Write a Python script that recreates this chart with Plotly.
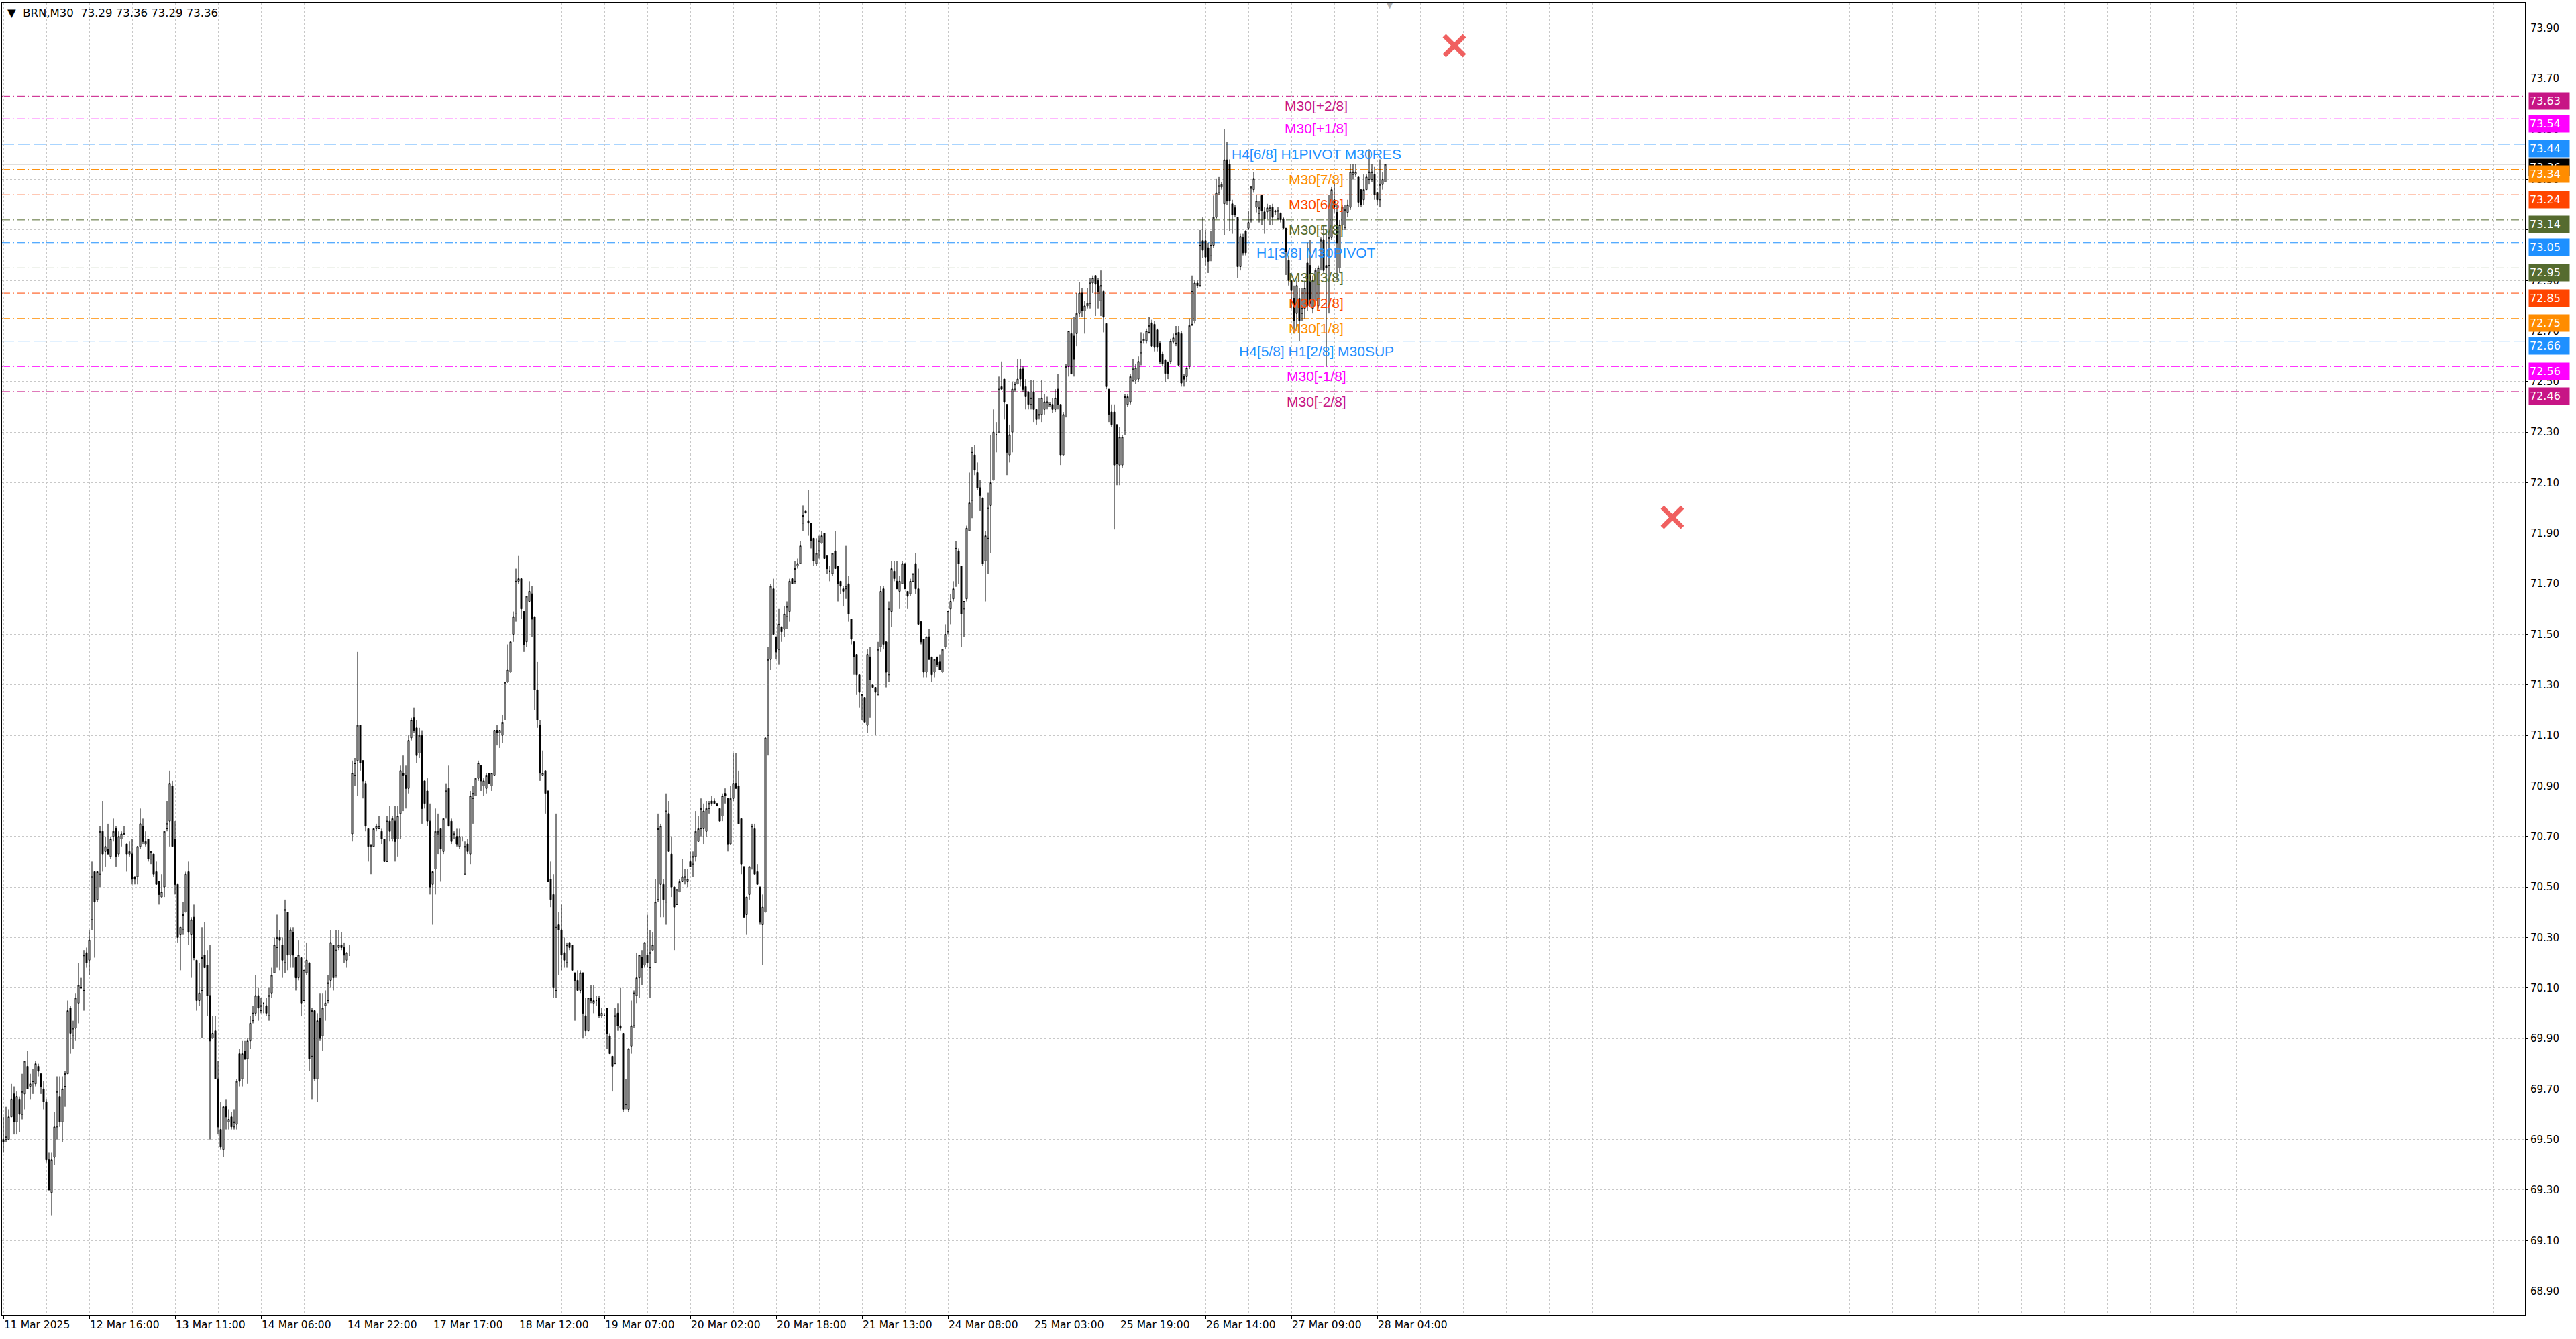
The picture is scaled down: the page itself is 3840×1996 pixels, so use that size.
import plotly.graph_objects as go

# ---------------- data (BRN, M30) ----------------
# (open, high, low, close) per 30-minute bar
week_11_14_mar = [
 (69.50,69.59,69.45,69.49),(69.50,69.63,69.49,69.51),(69.50,69.62,69.50,69.59),(69.59,69.72,69.59,69.66),
 (69.68,69.71,69.52,69.57),(69.57,69.69,69.52,69.67),(69.66,69.67,69.53,69.60),(69.60,69.76,69.58,69.69),
 (69.68,69.81,69.62,69.81),(69.79,69.85,69.70,69.70),(69.71,69.76,69.66,69.72),(69.73,69.78,69.68,69.73),
 (69.72,69.81,69.71,69.80),(69.79,69.80,69.75,69.77),(69.76,69.76,69.68,69.71),(69.70,69.73,69.62,69.65),
 (69.65,69.66,69.41,69.42),(69.42,69.45,69.30,69.30),(69.29,69.45,69.20,69.42),(69.43,69.61,69.40,69.55),
 (69.55,69.75,69.50,69.69),(69.67,69.75,69.55,69.57),(69.57,69.75,69.49,69.70),(69.71,69.77,69.63,69.76),
 (69.76,70.05,69.76,70.01),(70.02,70.03,69.84,69.92),(69.91,69.97,69.86,69.94),(69.94,70.08,69.89,70.06),
 (70.04,70.20,69.96,70.11),(70.10,70.14,70.10,70.10),(70.09,70.25,70.01,70.23),(70.24,70.26,70.18,70.20),
 (70.21,70.33,70.15,70.29),(70.37,70.60,70.33,70.54),(70.56,70.56,70.22,70.44),(70.45,70.56,70.44,70.56),
 (70.55,70.74,70.50,70.72),(70.72,70.84,70.56,70.63),(70.64,70.70,70.58,70.66),(70.65,70.75,70.63,70.63),
 (70.62,70.70,70.61,70.69),(70.70,70.77,70.68,70.72),(70.73,70.74,70.58,70.62),(70.63,70.72,70.62,70.70),
 (70.69,70.72,70.66,70.71),(70.71,70.74,70.71,70.71),(70.67,70.67,70.56,70.63),(70.63,70.68,70.62,70.64),
 (70.63,70.69,70.51,70.53),(70.54,70.54,70.51,70.53),(70.54,70.66,70.51,70.66),(70.66,70.81,70.65,70.75),
 (70.74,70.77,70.67,70.68),(70.67,70.72,70.66,70.68),(70.69,70.69,70.60,70.61),(70.61,70.64,70.59,70.64),
 (70.63,70.63,70.54,70.55),(70.56,70.60,70.51,70.51),(70.52,70.52,70.43,70.47),(70.46,70.55,70.46,70.48),
 (70.50,70.72,70.46,70.72),(70.73,70.84,70.72,70.75),(70.76,70.96,70.66,70.91),(70.90,70.92,70.66,70.66),
 (70.69,70.76,70.47,70.51),(70.51,70.51,70.28,70.30),(70.31,70.34,70.17,70.34),(70.33,70.44,70.31,70.39),
 (70.40,70.56,70.40,70.55),(70.56,70.60,70.27,70.32),(70.31,70.38,70.14,70.37),(70.38,70.43,70.21,70.22),
 (70.21,70.21,70.01,70.05),(70.05,70.20,70.03,70.08),(70.09,70.34,69.90,70.22),(70.23,70.36,70.18,70.18),
 (70.19,70.25,69.99,70.07),(70.07,70.27,69.50,69.89),(69.90,69.99,69.90,69.92),(69.93,69.99,69.74,69.74),
 (69.74,69.81,69.52,69.55),(69.54,69.65,69.46,69.47),(69.46,69.63,69.43,69.63),(69.63,69.66,69.54,69.59),
 (69.57,69.62,69.54,69.58),(69.59,69.61,69.54,69.55),(69.55,69.62,69.54,69.57),(69.56,69.74,69.54,69.73),
 (69.84,69.86,69.71,69.73),(69.74,69.89,69.71,69.84),(69.85,69.89,69.815,69.82),(69.82,69.90,69.72,69.89),
 (69.89,69.99,69.86,69.96),(69.97,70.03,69.96,70.00),(70.00,70.15,69.99,70.07),(70.07,70.10,69.97,70.02),
 (70.01,70.06,70.00,70.03),(70.04,70.04,70.00,70.04),(70.03,70.06,69.99,70.00),(69.99,70.10,69.97,70.07),
 (70.08,70.18,70.06,70.15),(70.16,70.30,70.16,70.27),(70.26,70.39,70.18,70.30),(70.30,70.33,70.17,70.29),
 (70.27,70.30,70.14,70.21),(70.20,70.45,70.16,70.41),(70.40,70.40,70.17,70.23),(70.23,70.34,70.18,70.33),
 (70.32,70.34,70.18,70.23),(70.22,70.22,70.09,70.14),(70.14,70.29,70.13,70.23),(70.22,70.22,69.99,70.04),
 (70.05,70.17,70.05,70.17),(70.16,70.28,70.15,70.21),(70.20,70.20,69.77,69.82),(69.83,70.02,69.66,70.01),
 (70.01,70.01,69.73,69.74),(69.74,70.00,69.65,69.97),(69.98,70.08,69.89,69.90),(69.91,70.08,69.85,70.02),
 (70.03,70.09,69.97,70.04),(70.05,70.15,70.04,70.12),(70.13,70.33,70.10,70.28),(70.27,70.27,70.09,70.14),
 (70.15,70.33,70.14,70.25),(70.26,70.33,70.25,70.27),(70.27,70.32,70.25,70.26),(70.26,70.28,70.20,70.23),
 (70.21,70.24,70.18,70.24),(70.23,70.27,70.23,70.23),
]
week_17_21_mar = [
 (70.71,71.00,70.68,70.95),(70.94,71.01,70.90,70.99),(71.00,71.43,70.86,71.14),(71.14,71.14,70.96,70.99),
 (71.00,71.00,70.85,70.92),(70.91,70.92,70.72,70.74),(70.73,70.73,70.60,70.66),(70.66,70.67,70.55,70.665),
 (70.66,70.73,70.66,70.73),(70.73,70.75,70.72,70.74),(70.73,70.78,70.73,70.74),(70.72,70.73,70.67,70.69),
 (70.69,70.69,70.60,70.60),(70.60,70.78,70.60,70.76),(70.76,70.82,70.68,70.72),(70.69,70.78,70.68,70.77),
 (70.76,70.82,70.60,70.68),(70.69,70.82,70.62,70.78),(70.79,70.98,70.69,70.96),(70.95,71.02,70.80,70.94),
 (70.94,70.98,70.81,70.89),(70.89,71.10,70.87,71.08),(71.09,71.17,71.08,71.16),(71.17,71.21,71.11,71.12),
 (71.13,71.16,70.99,71.02),(71.03,71.13,71.01,71.10),(71.10,71.12,70.75,70.81),(70.92,70.92,70.81,70.83),
 (70.88,70.93,70.74,70.76),(70.76,70.83,70.47,70.50),(70.51,70.56,70.35,70.56),(70.57,70.81,70.47,70.72),
 (70.71,70.79,70.63,70.72),(70.73,70.73,70.52,70.65),(70.64,70.77,70.63,70.77),(70.78,70.91,70.77,70.88),
 (70.89,70.98,70.74,70.74),(70.76,70.77,70.67,70.68),(70.69,70.72,70.69,70.71),(70.70,70.73,70.66,70.67),
 (70.66,70.73,70.65,70.70),(70.69,70.70,70.68,70.69),(70.55,70.68,70.55,70.66),(70.67,70.69,70.63,70.64),
 (70.63,70.88,70.59,70.86),(70.85,70.90,70.75,70.87),(70.86,70.93,70.86,70.93),(70.93,71.00,70.92,70.99),
 (70.98,70.98,70.88,70.92),(70.90,70.93,70.86,70.92),(70.89,70.95,70.87,70.94),(70.95,70.95,70.91,70.91),
 (70.90,70.95,70.88,70.95),(70.94,71.12,70.94,71.12),(71.12,71.14,71.06,71.11),(71.11,71.12,71.05,71.12),
 (71.10,71.18,71.07,71.15),(71.16,71.31,71.16,71.31),(71.31,71.46,71.31,71.36),(71.35,71.47,71.35,71.47),
 (71.50,71.59,71.47,71.57),(71.58,71.76,71.55,71.71),(71.71,71.81,71.70,71.72),(71.72,71.72,71.56,71.60),
 (71.59,71.59,71.43,71.46),(71.47,71.65,71.45,71.65),(71.63,71.71,71.63,71.67),(71.66,71.69,71.49,71.56),
 (71.57,71.57,71.20,71.28),(71.28,71.39,71.13,71.16),(71.14,71.16,70.92,70.95),(70.94,71.04,70.94,70.95),
 (70.96,70.96,70.79,70.87),(70.88,70.88,70.52,70.52),(70.53,70.60,70.42,70.45),(70.47,70.55,70.06,70.10),
 (70.09,70.79,70.06,70.34),(70.35,70.40,70.15,70.33),(70.33,70.43,70.17,70.23),(70.24,70.30,70.18,70.21),
 (70.20,70.28,70.18,70.27),(70.28,70.28,70.25,70.26),(70.27,70.27,70.17,70.17),(70.16,70.16,69.97,70.13),
 (70.13,70.17,70.09,70.09),(70.09,70.17,70.08,70.16),(70.16,70.16,69.90,70.00),(69.99,70.06,69.91,69.93),
 (69.93,70.06,69.93,70.06),(70.06,70.11,70.04,70.05),(70.04,70.11,70.00,70.05),(70.05,70.07,70.03,70.05),
 (70.06,70.07,69.98,69.99),(69.99,70.02,69.98,70.00),(69.99,70.00,69.99,69.99),(70.02,70.02,69.86,69.92),
 (69.91,69.92,69.84,69.84),(69.83,69.83,69.69,69.79),(69.80,70.02,69.80,69.99),(70.00,70.04,69.93,69.95),
 (69.95,70.10,69.93,69.94),(69.92,69.92,69.61,69.62),(69.64,69.74,69.62,69.64),(69.62,69.86,69.61,69.86),
 (69.87,70.05,69.84,69.95),(69.95,70.09,69.94,70.08),(70.07,70.24,70.04,70.14),(70.14,70.23,70.06,70.23),
 (70.22,70.25,70.11,70.18),(70.19,70.28,70.18,70.28),(70.23,70.39,70.18,70.20),(70.18,70.33,70.06,70.24),
 (70.25,70.32,70.25,70.27),(70.20,70.53,70.20,70.44),(70.45,70.79,70.44,70.73),(70.51,70.75,70.38,70.74),
 (70.51,70.53,70.38,70.45),(70.44,70.87,70.35,70.80),(70.79,70.84,70.64,70.64),(70.63,70.70,70.46,70.50),
 (70.50,70.50,70.25,70.42),(70.43,70.49,70.43,70.49),(70.48,70.53,70.48,70.52),(70.52,70.61,70.52,70.54),
 (70.53,70.57,70.51,70.54),(70.52,70.57,70.50,70.53),(70.60,70.64,70.58,70.58),(70.59,70.64,70.54,70.62),
 (70.62,70.80,70.60,70.72),(70.68,70.78,70.68,70.73),(70.73,70.85,70.70,70.81),(70.73,70.83,70.67,70.80),
 (70.72,70.84,70.70,70.81),(70.81,70.84,70.79,70.83),(70.84,70.86,70.82,70.83),(70.84,70.85,70.83,70.83),
 (70.83,70.83,70.82,70.82),(70.81,70.81,70.76,70.76),(70.78,70.87,70.76,70.86),(70.87,70.89,70.83,70.86),
 (70.85,70.85,70.64,70.67),(70.67,70.90,70.67,70.85),(70.85,71.03,70.84,70.91),(70.91,71.03,70.89,70.89),
 (70.90,70.96,70.75,70.75),(70.77,70.77,70.55,70.59),(70.58,70.58,70.38,70.38),(70.39,70.46,70.31,70.46),
 (70.47,70.58,70.45,70.58),(70.57,70.75,70.57,70.74),(70.73,70.75,70.55,70.55),(70.56,70.59,70.51,70.51),
 (70.50,70.50,70.35,70.36),(70.35,70.47,70.19,70.42),(70.40,71.09,70.40,71.09),(71.10,71.45,71.02,71.40),
 (71.40,71.70,71.36,71.69),(71.68,71.72,71.50,71.50),(71.49,71.49,71.40,71.43),(71.44,71.60,71.38,71.54),
 (71.53,71.53,71.47,71.51),(71.52,71.61,71.49,71.58),(71.57,71.63,71.52,71.61),(71.59,71.72,71.55,71.71),
 (71.72,71.72,71.70,71.70),(71.71,71.79,71.70,71.76),(71.77,71.80,71.76,71.78),(71.78,71.87,71.78,71.85),
 (71.94,72.01,71.91,71.97),(71.99,71.99,71.98,71.98),(71.95,72.07,71.89,71.94),(71.94,71.94,71.84,71.87),
 (71.88,71.88,71.77,71.79),(71.78,71.88,71.77,71.82),(71.83,71.89,71.80,71.87),(71.86,71.91,71.86,71.89),
 (71.90,71.90,71.80,71.80),(71.81,71.81,71.74,71.76),(71.75,71.77,71.71,71.75),(71.74,71.82,71.73,71.82),
 (71.83,71.91,71.76,71.76),(71.77,71.77,71.63,71.70),(71.71,71.71,71.66,71.69),(71.68,71.69,71.61,71.67),
 (71.68,71.85,71.64,71.69),(71.70,71.73,71.55,71.58),(71.56,71.56,71.46,71.48),(71.47,71.47,71.34,71.41),
 (71.42,71.42,71.26,71.34),(71.34,71.34,71.21,71.27),(71.26,71.26,71.16,71.26),(71.25,71.25,71.15,71.15),
 (71.14,71.44,71.11,71.42),(71.41,71.45,71.17,71.32),(71.30,71.30,71.29,71.29),(71.29,71.29,71.10,71.27),
 (71.26,71.47,71.26,71.44),(71.45,71.69,71.43,71.67),(71.68,71.69,71.44,71.46),(71.47,71.47,71.29,71.35),
 (71.34,71.63,71.31,71.60),(71.59,71.79,71.53,71.76),(71.75,71.79,71.71,71.72),(71.71,71.79,71.68,71.68),
 (71.67,71.73,71.60,71.71),(71.70,71.79,71.70,71.78),(71.78,71.78,71.68,71.68),(71.67,71.67,71.60,71.65),
]
week_24_28_mar = [
 (71.66,71.72,71.65,71.71),(71.71,71.74,71.71,71.74),(71.78,71.82,71.66,71.68),(71.68,71.76,71.54,71.54),
 (71.55,71.55,71.46,71.47),(71.48,71.48,71.33,71.35),(71.35,71.49,71.33,71.49),(71.49,71.52,71.40,71.40),
 (71.41,71.41,71.31,71.34),(71.35,71.40,71.33,71.40),(71.41,71.41,71.37,71.38),(71.39,71.42,71.36,71.36),
 (71.35,71.44,71.35,71.44),(71.45,71.54,71.44,71.50),(71.51,71.59,71.50,71.59),(71.60,71.66,71.54,71.63),
 (71.64,71.71,71.63,71.68),(71.69,71.87,71.69,71.84),(71.83,71.84,71.70,71.78),(71.77,71.77,71.45,71.58),
 (71.60,71.63,71.49,71.63),(71.64,71.93,71.63,71.92),(71.91,72.14,71.91,72.02),(72.03,72.24,71.96,72.22),
 (72.21,72.25,72.13,72.15),(72.14,72.18,72.07,72.08),(72.08,72.11,71.99,72.05),(72.04,72.04,71.77,71.78),
 (71.79,71.91,71.63,71.89),(71.88,72.06,71.74,72.00),(72.01,72.29,71.82,72.10),(72.11,72.39,72.11,72.30),
 (72.29,72.34,72.22,72.29),(72.30,72.52,72.30,72.47),(72.48,72.58,72.47,72.47),(72.51,72.51,72.35,72.42),
 (72.41,72.41,72.13,72.22),(72.21,72.33,72.18,72.29),(72.30,72.50,72.22,72.47),(72.47,72.50,72.46,72.49),
 (72.49,72.59,72.49,72.51),(72.55,72.59,72.48,72.51),(72.55,72.56,72.46,72.47),(72.48,72.51,72.39,72.44),
 (72.46,72.46,72.39,72.41),(72.41,72.505,72.39,72.435),(72.46,72.505,72.34,72.39),(72.39,72.39,72.33,72.35),
 (72.36,72.435,72.35,72.37),(72.37,72.505,72.34,72.435),(72.39,72.45,72.37,72.42),(72.40,72.44,72.39,72.42),
 (72.41,72.42,72.40,72.41),(72.41,72.435,72.375,72.39),(72.39,72.47,72.38,72.435),(72.47,72.53,72.39,72.41),
 (72.41,72.41,72.17,72.21),(72.21,72.38,72.21,72.37),(72.36,72.57,72.36,72.56),(72.56,72.70,72.52,72.70),
 (72.69,72.75,72.53,72.53),(72.68,72.755,72.52,72.59),(72.69,72.85,72.64,72.77),(72.77,72.895,72.755,72.85),
 (72.85,72.87,72.755,72.78),(72.78,72.82,72.69,72.80),(72.80,72.87,72.79,72.81),(72.81,72.91,72.79,72.89),
 (72.89,72.92,72.85,72.91),(72.92,72.92,72.76,72.885),(72.90,72.91,72.79,72.857),(72.82,72.94,72.76,72.88),
 (72.857,72.86,72.695,72.755),(72.73,72.73,72.47,72.48),(72.47,72.47,72.34,72.37),(72.38,72.41,72.32,72.33),
 (72.38,72.41,71.915,72.17),(72.33,72.33,72.09,72.175),(72.17,72.32,72.09,72.28),(72.17,72.29,72.16,72.28),
 (72.305,72.45,72.29,72.44),(72.41,72.45,72.40,72.44),(72.42,72.53,72.41,72.52),(72.505,72.59,72.50,72.55),
 (72.505,72.57,72.49,72.555),(72.51,72.60,72.50,72.58),(72.614,72.695,72.565,72.657),(72.662,72.69,72.65,72.668),
 (72.662,72.71,72.65,72.70),(72.695,72.755,72.69,72.722),(72.733,72.745,72.635,72.64),(72.727,72.74,72.62,72.635),
 (72.705,72.71,72.62,72.635),(72.65,72.66,72.57,72.58),(72.61,72.62,72.56,72.57),(72.586,72.59,72.50,72.532),
 (72.576,72.58,72.51,72.532),(72.58,72.67,72.57,72.66),(72.657,72.69,72.65,72.673),(72.65,72.72,72.64,72.69),
 (72.695,72.72,72.56,72.565),(72.69,72.70,72.48,72.494),(72.52,72.53,72.48,72.51),(72.52,72.56,72.50,72.554),
 (72.56,72.75,72.55,72.722),(72.727,72.92,72.72,72.857),(72.74,72.90,72.73,72.89),(72.89,72.90,72.87,72.88),
 (72.88,73.10,72.875,73.04),(73.058,73.15,72.99,73.02),(73.058,73.10,72.96,72.993),(73.03,73.05,72.93,72.977),
 (72.998,73.096,72.977,73.04),(73.04,73.237,73.03,73.15),(73.15,73.302,73.145,73.248),(73.248,73.31,73.24,73.275),
 (73.27,73.29,73.26,73.28),(73.204,73.50,73.08,73.378),(73.378,73.45,73.20,73.215),(73.36,73.38,73.096,73.215),
 (73.204,73.22,73.085,73.16),(73.188,73.20,73.15,73.16),(73.15,73.15,72.91,72.955),(72.955,73.085,72.94,73.074),
 (73.07,73.085,73.00,73.01),(73.096,73.10,73.00,73.01),(73.107,73.177,73.10,73.13),(73.14,73.275,73.13,73.27),
 (73.26,73.33,73.25,73.302),(73.19,73.24,73.17,73.215),(73.166,73.215,73.13,73.188),(73.237,73.24,73.12,73.177),
 (73.172,73.19,73.085,73.145),(73.172,73.204,73.145,73.188),(73.177,73.20,73.12,73.188),(73.19,73.204,73.12,73.15),
 (73.177,73.18,73.16,73.172),(73.145,73.19,73.14,73.177),(73.166,73.17,73.13,73.14),(73.145,73.15,73.107,73.107),
 (73.107,73.107,72.922,73.015),(72.98,73.00,72.88,72.90),(72.90,72.90,72.79,72.86),(72.83,72.88,72.69,72.74),
 (72.77,72.90,72.70,72.88),(72.83,72.87,72.66,72.74),(72.77,72.87,72.74,72.79),(72.79,72.90,72.75,72.87),
 (72.97,73.05,72.78,72.80),(72.96,73.06,72.80,72.81),(72.79,72.92,72.77,72.90),(72.82,72.95,72.80,72.94),
 (72.80,72.96,72.79,72.95),(72.95,73.07,72.94,73.06),(73.06,73.12,72.93,72.94),(72.96,73.10,72.56,72.95),
 (72.96,73.24,72.77,73.07),(73.07,73.27,73.06,73.26),(73.22,73.29,73.17,73.19),(73.17,73.20,72.90,73.05),
 (72.95,73.14,72.93,73.12),(73.12,73.20,73.10,73.19),(73.11,73.20,73.10,73.18),(73.17,73.22,73.15,73.20),
 (73.19,73.36,73.18,73.33),(73.32,73.36,73.30,73.33),(73.32,73.36,73.31,73.33),(73.31,73.31,73.19,73.21),
 (73.26,73.26,73.19,73.20),(73.22,73.32,73.20,73.26),(73.26,73.32,73.26,73.31),(73.30,73.42,73.28,73.33),
 (73.30,73.36,73.29,73.33),(73.32,73.35,73.22,73.24),(73.25,73.25,73.20,73.22),(73.22,73.38,73.19,73.28),
 (73.28,73.33,73.26,73.30),(73.29,73.36,73.29,73.36),
]

date_labels = ["11 Mar 2025", "12 Mar 16:00", "13 Mar 11:00", "14 Mar 06:00", "14 Mar 22:00",
               "17 Mar 17:00", "18 Mar 12:00", "19 Mar 07:00", "20 Mar 02:00", "20 Mar 18:00",
               "21 Mar 13:00", "24 Mar 08:00", "25 Mar 03:00", "25 Mar 19:00", "26 Mar 14:00",
               "27 Mar 09:00", "28 Mar 04:00"]
bars_per_label = 32

price_ticks = [73.90, 73.70, 73.50, 73.30, 73.10, 72.90, 72.70, 72.50, 72.30, 72.10, 71.90, 71.70,
               71.50, 71.30, 71.10, 70.90, 70.70, 70.50, 70.30, 70.10, 69.90, 69.70, 69.50, 69.30,
               69.10, 68.90]

level_prices = [73.63, 73.54, 73.44, 73.34, 73.24, 73.14, 73.05, 72.95, 72.85, 72.75, 72.66, 72.56, 72.46]
level_names = ["M30[+2/8]", "M30[+1/8]", "H4[6/8] H1PIVOT M30RES", "M30[7/8]", "M30[6/8]", "M30[5/8]",
               "H1[3/8] M30PIVOT", "M30[3/8]", "M30[2/8]", "M30[1/8]", "H4[5/8] H1[2/8] M30SUP",
               "M30[-1/8]", "M30[-2/8]"]
level_colors = ["#C71585", "#FF00FF", "#1E90FF", "#FF8C00", "#FF4500", "#556B2F", "#1E90FF",
                "#556B2F", "#FF4500", "#FF8C00", "#1E90FF", "#FF00FF", "#C71585"]
level_styles = ["dashdot", "dashdot", "dash", "dashdot", "dashdot", "dashdot", "dashdot",
                "dashdot", "dashdot", "dashdot", "dash", "dashdot", "dashdot"]

last_price = 73.36
header_values = ["73.29", "73.36", "73.29", "73.36"]
signal_bars = [540.75, 622.0]
signal_prices = [73.83, 71.963]

# ---------------- build ----------------
bars = week_11_14_mar + week_17_21_mar + week_24_28_mar
x_idx = list(range(len(bars)))
opens = [b[0] for b in bars]
highs = [b[1] for b in bars]
lows = [b[2] for b in bars]
closes = [b[3] for b in bars]

W, H = 3840, 1996
ML, MR, MT, MB = 3, 76, 4, 36
x_range = [-0.5, 939.75]
y_range = [68.806, 74.0]

fig = go.Figure()

fig.add_trace(go.Candlestick(
    x=x_idx, open=opens, high=highs, low=lows, close=closes,
    increasing=dict(line=dict(color="black", width=1), fillcolor="white"),
    decreasing=dict(line=dict(color="black", width=1), fillcolor="black"),
    whiskerwidth=0, hoverinfo="skip", showlegend=False,
))

fig.add_trace(go.Scatter(
    x=signal_bars, y=signal_prices, mode="markers", hoverinfo="skip", showlegend=False,
    marker=dict(symbol="x-thin", size=30, color="#F06060",
                line=dict(color="#F06060", width=7)),
))

dash_map = {"dashdot": "12px,4px,2px,4px", "dash": "18px,6px"}
shapes = []
for p, c, s in zip(level_prices, level_colors, level_styles):
    shapes.append(dict(type="line", xref="paper", yref="y", x0=0, x1=1, y0=p, y1=p,
                       line=dict(color=c, width=1, dash=dash_map[s]), layer="below"))
shapes.append(dict(type="line", xref="paper", yref="y", x0=0, x1=1, y0=last_price, y1=last_price,
                   line=dict(color="#C0C0C0", width=1), layer="below"))

annotations = []
label_bar = 489.25
for p, n, c in zip(level_prices, level_names, level_colors):
    annotations.append(dict(x=label_bar, y=p, xref="x", yref="y", text=n, showarrow=False,
                            xanchor="center", yanchor="top", yshift=-1,
                            font=dict(family="Liberation Sans, Arial", size=21, color=c)))

# right axis price boxes
box_font = dict(family="DejaVu Sans", size=16, color="white")
annotations.append(dict(x=1, y=last_price, xref="paper", yref="y", text=f"{last_price:.2f}",
                        showarrow=False, xanchor="left", yanchor="middle", xshift=5, yshift=-4,
                        width=58, height=23, align="left", bgcolor="black", font=box_font))
for p, c in zip(level_prices, level_colors):
    annotations.append(dict(x=1, y=p, xref="paper", yref="y", text=f"{p:.2f}",
                            showarrow=False, xanchor="left", yanchor="middle", xshift=5, yshift=-7,
                            width=58, height=23, align="left", bgcolor=c, font=box_font))

# header
annotations.append(dict(x=0, y=1, xref="paper", yref="paper",
                        text="▼  BRN,M30  " + " ".join(header_values), showarrow=False,
                        xanchor="left", yanchor="top", xshift=6, yshift=-4,
                        font=dict(family="DejaVu Sans", size=16.5, color="black")))
# chart-shift marker
annotations.append(dict(x=516.75, y=1, xref="x", yref="paper", text="▼", showarrow=False,
                        xanchor="center", yanchor="top", yshift=5,
                        font=dict(family="DejaVu Sans", size=12, color="#B0B0B0")))

label_vals = [i * bars_per_label for i in range(len(date_labels))]
grid_vals = list(range(0, 940, 16))

fig.update_layout(
    width=W, height=H, margin=dict(l=ML, r=MR, t=MT, b=MB, pad=0),
    paper_bgcolor="white", plot_bgcolor="white",
    shapes=shapes, annotations=annotations,
    xaxis=dict(range=x_range, rangeslider=dict(visible=False), showgrid=False, zeroline=False,
               tickmode="array", tickvals=label_vals, ticktext=date_labels,
               ticks="outside", ticklen=5, tickcolor="black", ticklabelposition="outside right",
               tickfont=dict(family="DejaVu Sans", size=15.5, color="black"),
               showline=True, linecolor="black", linewidth=1, mirror=True,
               minor=dict(tickmode="array", tickvals=grid_vals, showgrid=True, gridcolor="#C8C8C8",
                          griddash="3px,3px", gridwidth=1, ticks="")),
    yaxis=dict(range=y_range, side="right", tickmode="array", tickvals=price_ticks,
               ticktext=[f"{v:.2f}" for v in price_ticks],
               showgrid=True, gridcolor="#C8C8C8", griddash="3px,3px", gridwidth=1, zeroline=False,
               ticks="outside", ticklen=4, tickcolor="black",
               tickfont=dict(family="DejaVu Sans", size=15, color="black"),
               showline=True, linecolor="black", linewidth=1, mirror=True),
    showlegend=False,
)

fig.write_html("out.html", config={"displayModeBar": False},
               post_script="document.body.style.margin='0';document.body.style.overflow='hidden';")
